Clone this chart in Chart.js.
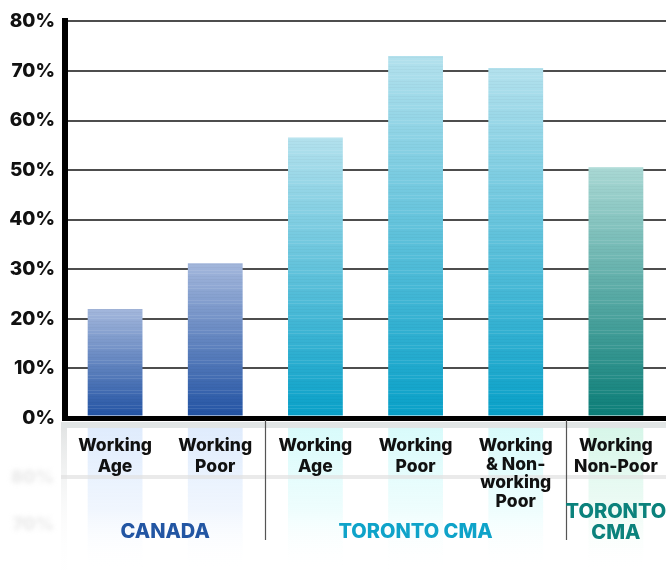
<!DOCTYPE html>
<html>
<head>
<meta charset="utf-8">
<script src="https://cdn.jsdelivr.net/npm/chart.js@4.4.1/dist/chart.umd.min.js"></script>
<style>
  html, body { margin: 0; padding: 0; background: #fff; }
  #wrap { width: 666px; height: 570px; position: relative; }
</style>
</head>
<body>
<div id="wrap"><canvas id="c" width="666" height="570"></canvas></div>
<script>
// Share of each population group (percent)
const categories = [
  ["Working", "Age"],
  ["Working", "Poor"],
  ["Working", "Age"],
  ["Working", "Poor"],
  ["Working", "& Non-", "working", "Poor"],
  ["Working", "Non-Poor"]
];
const shares = [22, 31.2, 56.6, 73, 70.6, 50.6];
const regionOf = [0, 0, 1, 1, 1, 2];
const regions = [["CANADA"], ["TORONTO CMA"], ["TORONTO", "CMA"]];
const yTicks = [0, 10, 20, 30, 40, 50, 60, 70, 80];

// top / bottom colours of the bar gradients and the pale tint beneath each region
const regionTop = ["#a3b7dc", "#b3e1ed", "#a9d8d4"];
const regionBottom = ["#2152a3", "#07a0c8", "#0a7d77"];
const regionText = ["#2356a3", "#0fa3c9", "#0b827c"];
const regionTint = ["rgba(214,230,252,0.8)", "rgba(208,250,250,0.85)", "rgba(206,244,228,0.85)"];

const FONT = "Inter, Lato, sans-serif";

function barFill(ctx) {
  const chart = ctx.chart;
  const r = regionOf[ctx.dataIndex];
  if (!chart.chartArea || !chart.scales.y) return regionBottom[r];
  const y = chart.scales.y;
  const top = y.getPixelForValue(shares[ctx.dataIndex]);
  const bottom = y.getPixelForValue(0);
  const g = chart.ctx.createLinearGradient(0, top, 0, bottom);
  g.addColorStop(0, regionTop[r]);
  g.addColorStop(1, regionBottom[r]);
  return g;
}

// light horizontal banding inside the bars
const bandPlugin = {
  id: 'bands',
  afterDatasetsDraw(chart) {
    const c = chart.ctx;
    const meta = chart.getDatasetMeta(0);
    c.save();
    meta.data.forEach((bar) => {
      const left = bar.x - bar.width / 2;
      for (let yy = Math.ceil(bar.y); yy < bar.base; yy += 3) {
        const k = (yy * 7) % 5;
        c.fillStyle = k < 2 ? 'rgba(255,255,255,0.10)' : 'rgba(0,0,0,0.025)';
        c.fillRect(left, yy, bar.width, 1);
      }
    });
    c.restore();
  }
};

const labelPlugin = {
  id: 'groupLabels',
  afterDraw(chart) {
    const c = chart.ctx;
    const x = chart.scales.x;
    const area = chart.chartArea;
    const meta = chart.getDatasetMeta(0);
    const base = area.bottom;
    c.save();

    // pale columns under each bar
    meta.data.forEach((bar, i) => {
      const g = c.createLinearGradient(0, base + 4, 0, 570);
      g.addColorStop(0, regionTint[regionOf[i]]);
      g.addColorStop(0.6, regionTint[regionOf[i]].replace(/[\d.]+\)$/, '0.35)'));
      g.addColorStop(1, 'rgba(255,255,255,0)');
      c.fillStyle = g;
      c.fillRect(bar.x - bar.width / 2, base + 10, bar.width, 570 - base - 10);
    });

    // faint shadow of the vertical axis
    const sg = c.createLinearGradient(0, base, 0, 570);
    sg.addColorStop(0, 'rgba(200,204,204,0.6)');
    sg.addColorStop(1, 'rgba(255,255,255,0)');
    c.fillStyle = sg;
    c.fillRect(area.left - 4, base + 4, 6, 570 - base - 4);

    // grey band just under the baseline
    c.fillStyle = '#e1e5e5';
    c.fillRect(area.left - 4, base + 4, area.right - area.left + 4, 6);

    // faint second rule
    c.fillStyle = 'rgba(225,225,225,0.7)';
    c.fillRect(area.left - 4, base + 57, area.right - area.left + 4, 4);

    // faint blurred percent marks at the left
    c.filter = 'blur(2.5px)';
    c.fillStyle = 'rgba(205,205,205,0.45)';
    c.font = '800 18px ' + FONT;
    c.textAlign = 'right';
    c.textBaseline = 'middle';
    c.fillText('80%', 54, base + 60);
    c.fillText('70%', 54, base + 107);
    c.filter = 'none';

    // separators between regions
    c.strokeStyle = '#555';
    c.lineWidth = 1.2;
    [[1, 2], [4, 5]].forEach(([a, b]) => {
      const sx = Math.round((x.getPixelForValue(a) + x.getPixelForValue(b)) / 2) + 0.5;
      c.beginPath();
      c.moveTo(sx, base + 2);
      c.lineTo(sx, base + 122);
      c.stroke();
    });

    // category names
    c.fillStyle = '#111';
    c.font = '800 17.5px ' + FONT;
    c.textAlign = 'center';
    c.textBaseline = 'middle';
    categories.forEach((lines, i) => {
      const cx = x.getPixelForValue(i);
      const step = lines.length > 2 ? 18.5 : 20.5;
      lines.forEach((t, j) => c.fillText(t, cx, base + 28 + j * step));
    });

    // region names
    c.font = '800 20px ' + FONT;
    regions.forEach((lines, r) => {
      const idx = regionOf.map((v, i) => v === r ? i : -1).filter(i => i >= 0);
      const cx = idx.reduce((s, i) => s + x.getPixelForValue(i), 0) / idx.length;
      c.fillStyle = regionText[r];
      const startY = lines.length > 1 ? base + 94 : base + 114;
      lines.forEach((t, j) => c.fillText(t, cx, startY + j * 21));
    });
    c.restore();
  }
};

new Chart(document.getElementById('c'), {
  type: 'bar',
  data: {
    labels: categories.map(l => l.join(' ')),
    datasets: [{
      data: shares,
      backgroundColor: barFill,
      borderWidth: 0,
      categoryPercentage: 1,
      barPercentage: 0.547
    }]
  },
  options: {
    responsive: false,
    animation: false,
    devicePixelRatio: 1,
    layout: { padding: { top: 15, right: 0, bottom: 152, left: 0 } },
    plugins: { legend: { display: false }, tooltip: { enabled: false } },
    scales: {
      x: { display: false },
      y: {
        min: 0,
        max: 80,
        afterFit(scale) { scale.width = 65; },
        afterBuildTicks(scale) { scale.ticks = yTicks.map(v => ({ value: v })); },
        ticks: {
          padding: 10,
          color: '#111',
          font: { family: FONT, size: 19, weight: '800' },
          callback: v => v + '%'
        },
        grid: {
          drawTicks: false,
          color: ctx => ctx.tick && ctx.tick.value === 0 ? '#000' : '#4d4d4d',
          lineWidth: ctx => ctx.tick && ctx.tick.value === 0 ? 5 : 2
        },
        border: { display: true, color: '#000', width: 6 }
      }
    }
  },
  plugins: [bandPlugin, labelPlugin]
});
</script>
</body>
</html>
